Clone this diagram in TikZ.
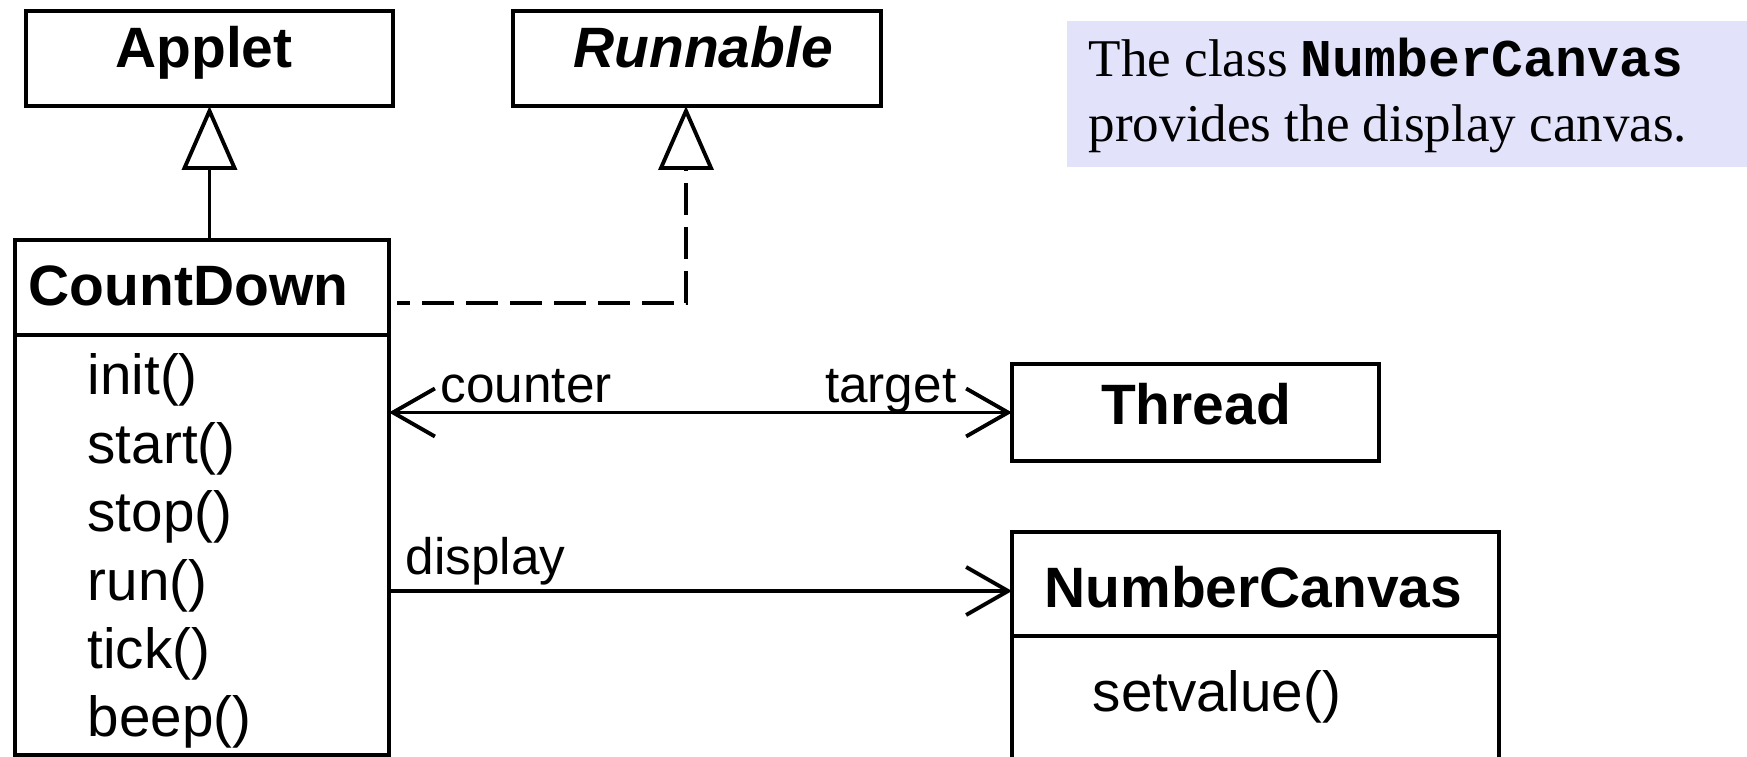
\documentclass[tikz,border=0pt]{standalone}
\usepackage{fontspec}
\setmainfont{Liberation Serif}
\setsansfont{Liberation Sans}
\setmonofont{Liberation Mono}
\usetikzlibrary{arrows.meta}
\definecolor{notebg}{RGB}{226,226,250}

\begin{document}
\begin{tikzpicture}[
  box/.style={draw, line width=1.1pt, inner sep=0pt, outer sep=0pt},
  cname/.style={font=\sffamily\bfseries\fontsize{16.2}{19}\selectfont, inner sep=0pt, anchor=base},
  meth/.style={font=\sffamily\fontsize{16.1}{19}\selectfont, inner sep=0pt, anchor=base west},
  role/.style={font=\sffamily\fontsize{14.6}{17}\selectfont, inner sep=0pt},
  notetext/.style={font=\fontsize{15.1}{18}\selectfont, inner sep=0pt, anchor=base west},
  assoc/.style={line width=1.1pt, -{Straight Barb[length=4.2mm,width=4.8mm]}},
  biassoc/.style={line width=1.1pt, {Straight Barb[length=4.2mm,width=4.8mm]}-{Straight Barb[length=4.2mm,width=4.8mm]}},
  inherit/.style={line width=1.1pt, -{Triangle[open,length=6.4mm,width=5.5mm]}},
  realize/.style={line width=1.2pt, {Triangle[open,length=6.4mm,width=5.5mm,line width=1.1pt]}-, dash pattern=on 3.2mm off 1.2mm, dash phase=3mm}
]
\clip (0,0) rectangle (17.47,7.57);
% note
\node[fill=notebg, inner sep=0pt, minimum width=7cm, minimum height=1.46cm, anchor=north west] (note) at (10.66,7.37) {};
\node[notetext] (note1) at (10.88,6.80) {The class \texttt{\bfseries NumberCanvas}};
\node[notetext] (note2) at (10.88,6.15) {provides the display canvas.};
% superclass and interface
\node[box, minimum width=3.67cm, minimum height=0.95cm] (applet) at (2.095,6.985) {};
\node[cname] (appletname) at (2.04,6.89) {Applet};
\node[box, minimum width=3.68cm, minimum height=0.95cm] (runnable) at (6.97,6.985) {};
\node[cname] (runnablename) at (7.03,6.89) {\itshape Runnable};
% CountDown
\node[box, minimum width=3.74cm, minimum height=0.95cm] (cdhead) at (2.02,4.695) {};
\node[box, minimum width=3.74cm, minimum height=4.20cm, anchor=north] (cdbody) at (cdhead.south) {};
\node[cname, anchor=base west] (cdname) at (0.28,4.51) {CountDown};
\foreach \m [count=\i from 0] in {init(),start(),stop(),run(),tick(),beep()}
  \node[meth] (meth\i) at (0.87,{3.62-0.684*\i}) {\m};
% Thread
\node[box, minimum width=3.67cm, minimum height=0.97cm] (thread) at (11.955,3.445) {};
\node[cname] (threadname) at (11.96,3.32) {Thread};
% NumberCanvas
\node[box, minimum width=4.87cm, minimum height=1.04cm] (nchead) at (12.555,1.73) {};
\node[box, minimum width=4.87cm, minimum height=1.8cm, anchor=north] (ncbody) at (nchead.south) {};
\node[cname] (ncname) at (12.535,1.49) {NumberCanvas};
\node[meth] (setvalue) at (10.92,0.45) {setvalue()};
% connectors
\draw[inherit] (applet.south |- cdhead.north) -- (applet.south);
\coordinate (realend) at ([xshift=0.8mm,yshift=-1.55mm]cdhead.east);
\draw[realize] ([xshift=-1.1mm]runnable.south) |- (realend);
\draw[biassoc] (thread.west -| cdbody.east) -- (thread.west);
\node[role, anchor=base west] (counter) at (4.40,3.54) {counter};
\node[role, anchor=base east] (target) at (9.57,3.54) {target};
\draw[assoc] ([yshift=-0.7mm]nchead.west -| cdbody.east) -- ([yshift=-0.7mm]nchead.west);
\node[role, anchor=base west] (display) at (4.05,1.82) {display};
\end{tikzpicture}
\end{document}
